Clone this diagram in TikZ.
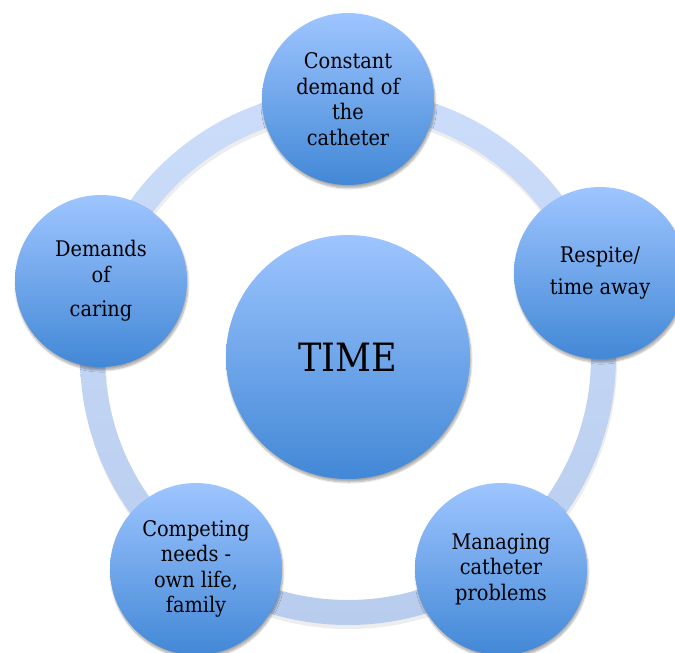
\documentclass[tikz,border=0pt]{standalone}
\usepackage{fontspec}
\setmainfont{DejaVu Serif Condensed}
\usetikzlibrary{shadows.blur}
\definecolor{ringtop}{RGB}{203,221,250}
\definecolor{ringbot}{RGB}{184,204,238}
\definecolor{balltop}{RGB}{158,197,255}
\definecolor{ballmid}{RGB}{126,175,240}
\definecolor{ballbot}{RGB}{66,136,214}
\tikzset{
  ball/.style={circle, minimum size=172pt, inner sep=0pt, align=center,
    top color=balltop, middle color=ballmid, bottom color=ballbot,
    font=\fontsize{21.5}{25.5}\selectfont,
    blur shadow={shadow blur steps=8, shadow xshift=1pt, shadow yshift=-3pt, shadow opacity=35}},
  hub/.style={ball, minimum size=244pt, font=\fontsize{39}{46}\selectfont},
}
\begin{document}
\begin{tikzpicture}[x=1pt,y=-1pt]
  \useasboundingbox (0,0) rectangle (675,653);
  % ring joining the outer circles, with a soft shadow underneath
  \draw[black, opacity=0.07, line width=25pt] (349,361) circle (255.5pt);
  \path[shade, top color=ringtop, bottom color=ringbot, even odd rule]
    (348,357) circle (268pt) (348,357) circle (243pt);
  % centre
  \node[hub] (time) at (348,357) {TIME};
  % outer circles
  \node[ball] (demand) at (348,99) {Constant\\demand of\\the\\catheter};
  \node[ball] (respite) at (600,273) {Respite/\\[7pt]time away};
  \node[ball] (managing) at (501,569) {Managing\\catheter\\problems};
  \node[ball] (competing) at (196,569) {Competing\\needs -\\own life,\\family};
  \node[ball] (caring) at (101,281) {Demands\\of\\[9pt]caring};
\end{tikzpicture}
\end{document}
